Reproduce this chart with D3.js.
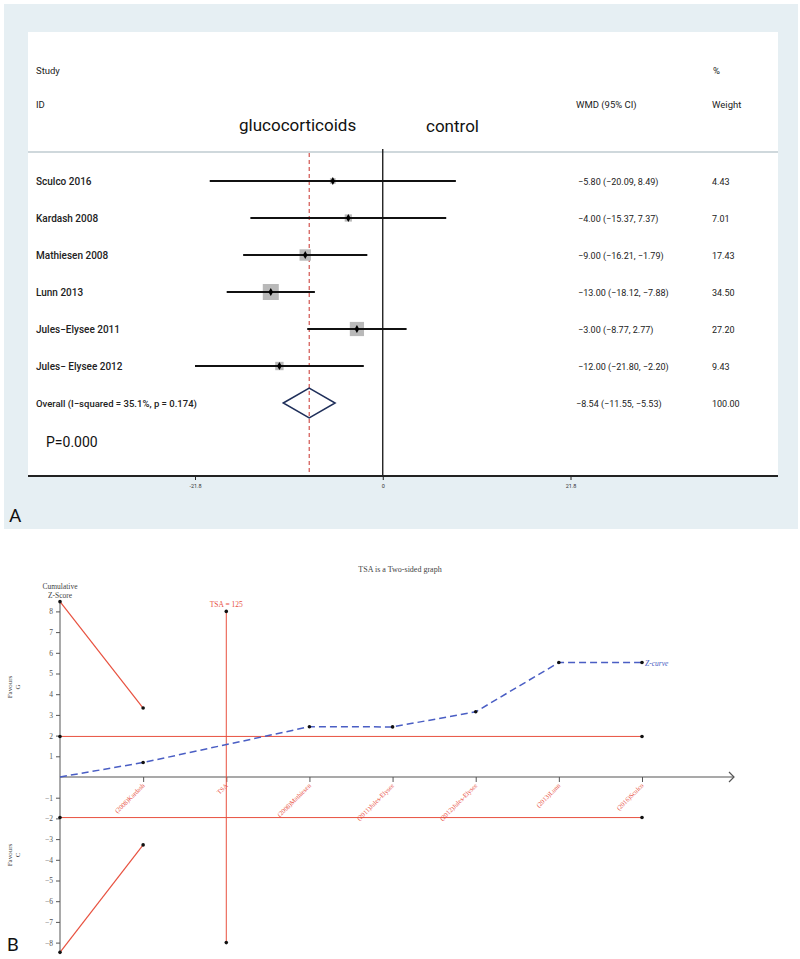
<!DOCTYPE html>
<html>
<head>
<meta charset="utf-8">
<script src="https://d3js.org/d3.v7.min.js"></script>
<style>
  html, body { margin: 0; padding: 0; background: #ffffff; }
  svg { display: block; }
</style>
</head>
<body>
<svg id="chart" width="800" height="959"></svg>
<script>
// ---------- Panel A data (forest plot) ----------
const studies = ["Sculco 2016", "Kardash 2008", "Mathiesen 2008", "Lunn 2013", "Jules\u2212Elysee 2011", "Jules\u2212 Elysee 2012"];
const wmd     = [-5.80, -4.00, -9.00, -13.00, -3.00, -12.00];
const ciLow   = [-20.09, -15.37, -16.21, -18.12, -8.77, -21.80];
const ciHigh  = [8.49, 7.37, -1.79, -7.88, 2.77, -2.20];
const weights = [4.43, 7.01, 17.43, 34.50, 27.20, 9.43];
const wmdText = ["\u22125.80 (\u221220.09, 8.49)", "\u22124.00 (\u221215.37, 7.37)", "\u22129.00 (\u221216.21, \u22121.79)",
                 "\u221213.00 (\u221218.12, \u22127.88)", "\u22123.00 (\u22128.77, 2.77)", "\u221212.00 (\u221221.80, \u22122.20)"];
const weightText = ["4.43", "7.01", "17.43", "34.50", "27.20", "9.43"];
const overallLabel = "Overall  (I\u2212squared = 35.1%, p = 0.174)";
const overallEst = -8.54, overallLow = -11.55, overallHigh = -5.53;
const overallText = "\u22128.54 (\u221211.55, \u22125.53)";
const overallWeight = "100.00";
const forestTicks = [-21.8, 0, 21.8];
const forestTickLabels = ["-21.8", "0", "21.8"];

// ---------- Panel B data (TSA) ----------
const tsaLabels = ["(2008)Kardash", "TSA", "(2008)Mathiesen", "(2011)Jules-Elysee", "(2012)Jules-Elysee", "(2013)Lunn", "(2016)Sculco"];
const tsaTickPos = [1, 2, 3, 4, 5, 6, 7];
const zPos   = [0, 1, 3, 4, 5, 6, 7];
const zVals  = [0, 0.70, 2.43, 2.42, 3.15, 5.53, 5.53];
const upperPos = [0, 1], upperVals = [8.47, 3.33];
const lowerPos = [0, 1], lowerVals = [-8.47, -3.28];
const convPos = [0, 7], convUpper = [1.96, 1.96], convLower = [-1.96, -1.96];
const tsaLinePos = 2, tsaLineTop = 8, tsaLineBottom = -8;
const zTicks = [-8, -7, -6, -5, -4, -3, -2, -1, 1, 2, 3, 4, 5, 6, 7, 8];

const svg = d3.select("#chart");
const sans = "Roboto, 'Liberation Sans', sans-serif";
const serif = "'Liberation Serif', 'DejaVu Serif', serif";

// ================= PANEL A =================
const A = svg.append("g");
A.append("rect").attr("x", 4).attr("y", 4).attr("width", 794).attr("height", 525).attr("fill", "#e6eff3");
A.append("rect").attr("x", 28).attr("y", 32).attr("width", 750).attr("height", 444).attr("fill", "#ffffff");

const xA = d3.scaleLinear().domain([-21.8, 21.8]).range([195, 570.5]);
const rowIdx = d3.range(studies.length + 1);
const yA = d3.scalePoint().domain(rowIdx).range([181, 403]);
const boxSide = d3.scaleSqrt().domain([0, 34.5]).range([0, 16]);

// headers
const hdr = A.append("g").attr("font-family", sans).attr("font-size", 9.5).attr("fill", "#222");
hdr.append("text").attr("x", 36).attr("y", 74).text("Study");
hdr.append("text").attr("x", 36).attr("y", 108).text("ID");
hdr.append("text").attr("x", 713).attr("y", 74).text("%");
hdr.append("text").attr("x", 712).attr("y", 108).text("Weight");
hdr.append("text").attr("x", 576).attr("y", 108).text("WMD (95% CI)");
A.append("text").attr("x", 239).attr("y", 131).attr("font-family", sans).attr("font-size", 17).attr("fill", "#111").text("glucocorticoids");
A.append("text").attr("x", 426).attr("y", 132).attr("font-family", sans).attr("font-size", 17).attr("fill", "#111").text("control");

// separator
A.append("line").attr("x1", 28).attr("x2", 778).attr("y1", 152).attr("y2", 152).attr("stroke", "#cfd8dc").attr("stroke-width", 2);

// null line & overall dashed line
A.append("line").attr("x1", xA(0)).attr("x2", xA(0)).attr("y1", 149).attr("y2", 476).attr("stroke", "#111").attr("stroke-width", 1.3);
A.append("line").attr("x1", xA(overallEst)).attr("x2", xA(overallEst)).attr("y1", 153).attr("y2", 476)
  .attr("stroke", "#c8302a").attr("stroke-width", 1).attr("stroke-dasharray", "4,3");

// study rows
const rows = A.selectAll("g.row").data(studies).join("g").attr("class", "row");
rows.append("text").attr("x", 36).attr("y", (d, i) => yA(i) + 3.5)
  .attr("font-family", sans).attr("font-size", 10).attr("font-weight", 500).attr("fill", "#222").text(d => d);
rows.append("rect")
  .attr("x", (d, i) => xA(wmd[i]) - boxSide(weights[i]) / 2)
  .attr("y", (d, i) => yA(i) - boxSide(weights[i]) / 2)
  .attr("width", (d, i) => boxSide(weights[i]))
  .attr("height", (d, i) => boxSide(weights[i]))
  .attr("fill", "#b9b9b9");
rows.append("line")
  .attr("x1", (d, i) => xA(ciLow[i])).attr("x2", (d, i) => xA(ciHigh[i]))
  .attr("y1", (d, i) => yA(i)).attr("y2", (d, i) => yA(i))
  .attr("stroke", "#111").attr("stroke-width", 1.8);
rows.append("path")
  .attr("d", d3.symbol(d3.symbolDiamond, 18))
  .attr("transform", (d, i) => `translate(${xA(wmd[i])},${yA(i)})`)
  .attr("fill", "#000");
rows.append("text").attr("x", 578).attr("y", (d, i) => yA(i) + 3.5)
  .attr("font-family", sans).attr("font-size", 9).attr("fill", "#222").text((d, i) => wmdText[i]);
rows.append("text").attr("x", 712).attr("y", (d, i) => yA(i) + 3.5)
  .attr("font-family", sans).attr("font-size", 9).attr("fill", "#222").text((d, i) => weightText[i]);

// overall
const oy = yA(studies.length);
A.append("text").attr("x", 36).attr("y", oy + 3.5).attr("font-family", sans).attr("font-size", 9.5).attr("font-weight", 500).attr("fill", "#222").text(overallLabel);
A.append("path")
  .attr("d", `M${xA(overallLow)},${oy} L${xA(overallEst)},${oy - 15} L${xA(overallHigh)},${oy} L${xA(overallEst)},${oy + 15} Z`)
  .attr("fill", "none").attr("stroke", "#1f2f5a").attr("stroke-width", 1.5);
A.append("text").attr("x", 576).attr("y", oy + 3.5).attr("font-family", sans).attr("font-size", 9).attr("fill", "#222").text(overallText);
A.append("text").attr("x", 712).attr("y", oy + 3.5).attr("font-family", sans).attr("font-size", 9).attr("fill", "#222").text(overallWeight);

A.append("text").attr("x", 46).attr("y", 447).attr("font-family", sans).attr("font-size", 14).attr("fill", "#111").text("P=0.000");

// axis A
A.append("line").attr("x1", 28).attr("x2", 778).attr("y1", 476).attr("y2", 476).attr("stroke", "#222").attr("stroke-width", 2);
const axA = A.append("g").attr("transform", "translate(0,476)")
  .call(d3.axisBottom(xA).tickValues(forestTicks).tickSize(4).tickFormat((d, i) => forestTickLabels[i]));
axA.select(".domain").remove();
axA.selectAll("line").attr("stroke", "#222");
axA.selectAll("text").attr("font-family", sans).attr("font-size", 5.5).attr("fill", "#333").attr("dy", "0.9em");

A.append("text").attr("x", 9).attr("y", 522).attr("font-family", sans).attr("font-size", 19).attr("fill", "#111").text("A");

// ================= PANEL B =================
const B = svg.append("g");
const xB = d3.scaleLinear().domain([0, 7]).range([60, 642]);
const yB = d3.scaleLinear().domain([-8, 8]).range([942.6, 611.4]);
const red = "#e8513f";
const blue = "#4a5ec4";

B.append("text").attr("x", 400).attr("y", 572).attr("text-anchor", "middle")
  .attr("font-family", serif).attr("font-size", 8).attr("fill", "#444").text("TSA is a Two-sided graph");

// y axis
B.append("line").attr("x1", xB(0)).attr("x2", xB(0)).attr("y1", yB(8.5)).attr("y2", yB(-8.5)).attr("stroke", "#555").attr("stroke-width", 1);
const axBy = B.append("g").attr("transform", `translate(${xB(0)},0)`)
  .call(d3.axisLeft(yB).tickValues(zTicks).tickSize(4).tickFormat(d3.format("d")));
axBy.select(".domain").remove();
axBy.selectAll("line").attr("stroke", "#555");
axBy.selectAll("text").attr("font-family", serif).attr("font-size", 7.5).attr("fill", "#555");

B.append("text").attr("x", xB(0)).attr("y", 589).attr("text-anchor", "middle").attr("font-family", serif).attr("font-size", 7.5).attr("fill", "#444").text("Cumulative");
B.append("text").attr("x", xB(0)).attr("y", 598).attr("text-anchor", "middle").attr("font-family", serif).attr("font-size", 7.5).attr("fill", "#444").text("Z-Score");

// favours labels
[["Favours", "G", 687], ["Favours", "C", 855]].forEach(([a, b, cy]) => {
  const g = B.append("g").attr("transform", `translate(12,${cy}) rotate(-90)`);
  g.append("text").attr("text-anchor", "middle").attr("font-family", serif).attr("font-size", 7).attr("fill", "#444").text(a);
  g.append("text").attr("y", 8).attr("text-anchor", "middle").attr("font-family", serif).attr("font-size", 7).attr("fill", "#444").text(b);
});

// x axis with arrow
const y0 = yB(0);
B.append("line").attr("x1", xB(0)).attr("x2", 734).attr("y1", y0).attr("y2", y0).attr("stroke", "#555").attr("stroke-width", 1.2);
B.append("path").attr("d", `M${729},${y0 - 5} L${734},${y0} L${729},${y0 + 5}`).attr("fill", "none").attr("stroke", "#555").attr("stroke-width", 1.2);
const axBx = B.append("g").attr("transform", `translate(0,${y0})`)
  .call(d3.axisBottom(xB).tickValues(tsaTickPos).tickSize(5).tickFormat(""));
axBx.select(".domain").remove();
axBx.selectAll("line").attr("stroke", "#555");
B.selectAll("text.xl").data(tsaLabels).join("text").attr("class", "xl")
  .attr("transform", (d, i) => `translate(${xB(tsaTickPos[i]) + 2},${y0 + 9}) rotate(-45)`)
  .attr("text-anchor", "end").attr("font-family", serif).attr("font-size", 6.5).attr("fill", red).text(d => d);

const line = d3.line().x(d => xB(d[0])).y(d => yB(d[1]));

// conventional boundaries
[convUpper, convLower].forEach(vals => {
  const pts = convPos.map((p, i) => [p, vals[i]]);
  B.append("path").attr("d", line(pts)).attr("stroke", red).attr("stroke-width", 1).attr("fill", "none");
  B.selectAll(null).data(pts).join("circle").attr("cx", d => xB(d[0])).attr("cy", d => yB(d[1])).attr("r", 1.8).attr("fill", "#111");
});

// monitoring boundaries
[[upperPos, upperVals], [lowerPos, lowerVals]].forEach(([ps, vs]) => {
  const pts = ps.map((p, i) => [p, vs[i]]);
  B.append("path").attr("d", line(pts)).attr("stroke", red).attr("stroke-width", 1.2).attr("fill", "none");
  B.selectAll(null).data(pts).join("circle").attr("cx", d => xB(d[0])).attr("cy", d => yB(d[1])).attr("r", 1.8).attr("fill", "#111");
});

// TSA vertical line
B.append("line").attr("x1", xB(tsaLinePos)).attr("x2", xB(tsaLinePos)).attr("y1", yB(tsaLineTop)).attr("y2", yB(tsaLineBottom)).attr("stroke", red).attr("stroke-width", 1);
B.selectAll(null).data([tsaLineTop, tsaLineBottom]).join("circle").attr("cx", xB(tsaLinePos)).attr("cy", d => yB(d)).attr("r", 1.8).attr("fill", "#111");
B.append("text").attr("x", xB(tsaLinePos)).attr("y", yB(tsaLineTop) - 4).attr("text-anchor", "middle")
  .attr("font-family", serif).attr("font-size", 7.5).attr("fill", red).text("TSA = 125");

// Z-curve
const zPts = zPos.map((p, i) => [p, zVals[i]]);
B.append("path").attr("d", line(zPts)).attr("stroke", blue).attr("stroke-width", 1.5).attr("fill", "none").attr("stroke-dasharray", "7,4");
B.selectAll(null).data(zPts.slice(1)).join("circle").attr("cx", d => xB(d[0])).attr("cy", d => yB(d[1])).attr("r", 1.8).attr("fill", "#111");
B.append("text").attr("x", xB(7) + 3).attr("y", yB(zVals[zVals.length - 1]) + 3)
  .attr("font-family", serif).attr("font-style", "italic").attr("font-size", 7.5).attr("fill", blue).text("Z-curve");

B.append("text").attr("x", 7).attr("y", 951).attr("font-family", sans).attr("font-size", 19).attr("fill", "#111").text("B");
</script>
</body>
</html>
